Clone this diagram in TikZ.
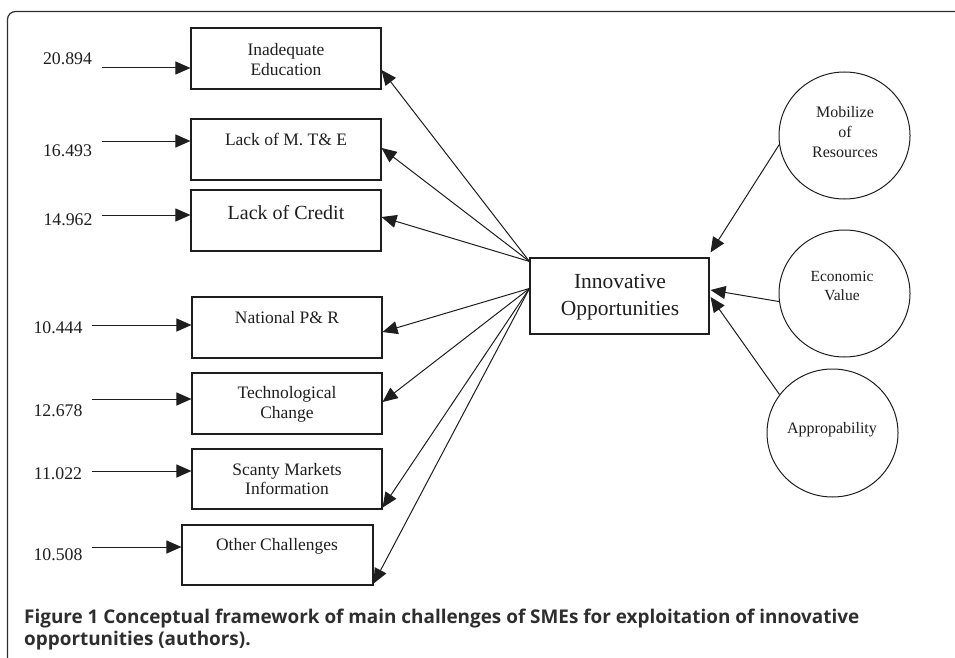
\documentclass[tikz,border=0pt]{standalone}
\usepackage{fontspec}
\setmainfont{Liberation Serif}
\newfontfamily\capfont{Open Sans}
\usetikzlibrary{arrows.meta,shapes.geometric,calc}
\definecolor{ink}{HTML}{1E1E1E}
\definecolor{capgray}{HTML}{2E2E2E}
\begin{document}
\begin{tikzpicture}[x=1pt,y=-1pt,
  box/.style={draw=ink,line width=1.1pt,inner sep=0pt,minimum width=190pt,minimum height=61pt},
  oval/.style={draw=ink,line width=1pt,ellipse,inner sep=0pt,minimum width=131pt,minimum height=127pt},
  lbl/.style={text=ink,inner sep=0pt,align=center,font=\fontsize{17.5}{20}\selectfont},
  circlbl/.style={text=ink,inner sep=0pt,align=center,font=\fontsize{15.5}{19.5}\selectfont},
  num/.style={text=ink,inner sep=0pt,anchor=base,font=\fontsize{17.8}{20}\selectfont},
  arr/.style={draw=ink,line width=1pt,-{Triangle[length=15pt,width=13pt]}},
  frame/.style={draw=capgray,line width=1.2pt,rounded corners=8pt}]
\useasboundingbox (0,0) rectangle (955,658);

% frame
\coordinate (fa) at (7.5,658);
\coordinate (fb) at (955,11.5);
\draw[frame] (fa) |- (fb);

% challenge boxes
\node[box] (b1) at (286,58.5) {};
\node[box] (b2) at (286,149.5) {};
\node[box] (b3) at (286,220.5) {};
\node[box] (b4) at (287,327.5) {};
\node[box] (b5) at (287,403.5) {};
\node[box,minimum height=60pt] (b6) at (287,479) {};
\node[box,minimum width=191pt,minimum height=60pt] (b7) at (277.5,555) {};

\node[lbl] (t1) at (286,59.5) {Inadequate\\Education};
\node[lbl,anchor=base] (t2) at (286,145.3) {Lack of M. T\& E};
\node[lbl,anchor=base,font=\fontsize{20}{22}\selectfont] (t3) at (286,219) {Lack of Credit};
\node[lbl,anchor=base] (t4) at (287,323.3) {National P\& R};
\node[lbl] (t5) at (287,404) {Technological\\Change};
\node[lbl,font=\fontsize{17.5}{19}\selectfont] (t6) at (287,479) {Scanty Markets\\Information};
\node[lbl,anchor=base] (t7) at (277,550.3) {Other Challenges};

% numbers
\node[num] (n1) at (67.5,65) {20.894};
\node[num] (n2) at (67.5,156) {16.493};
\node[num] (n3) at (68,225) {14.962};
\node[num] (n4) at (58,333) {10.444};
\node[num] (n5) at (58,416) {12.678};
\node[num] (n6) at (58,479) {11.022};
\node[num] (n7) at (58,560) {10.508};

\coordinate (s1) at (102,68);
\coordinate (s2) at (102,141);
\coordinate (s3) at (102,215);
\coordinate (s4) at (92,325);
\coordinate (s5) at (92,399);
\coordinate (s6) at (92,471);
\coordinate (s7) at (92,547);

\draw[arr] (s1) -- ($(b1.west)+(0,9.5)$);
\draw[arr] (s2) -- ($(b2.west)+(0,-8.5)$);
\draw[arr] (s3) -- ($(b3.west)+(0,-5.5)$);
\draw[arr] (s4) -- ($(b4.west)+(0,-2.5)$);
\draw[arr] (s5) -- ($(b5.west)+(0,-4.5)$);
\draw[arr] (s6) -- ($(b6.west)+(0,-8)$);
\draw[arr] (s7) -- ($(b7.west)+(0,-8)$);

% central box
\node[box,minimum width=179pt,minimum height=76pt] (inno) at (619.5,296) {};
\node[lbl,font=\fontsize{21.5}{27}\selectfont] (ti) at (620,297) {Innovative\\Opportunities};

\coordinate (o1) at ($(inno.north west)+(0,4)$);
\coordinate (o2) at ($(inno.north west)+(0,31)$);

\draw[arr] (o1) -- ($(b1.east)+(0,11.5)$);
\draw[arr] (o1) -- ($(b2.east)+(0,-1.5)$);
\draw[arr] (o1) -- ($(b3.east)+(0,-3.5)$);
\draw[arr] (o2) -- ($(b4.east)+(0,4.5)$);
\draw[arr] (o2) -- ($(b5.east)+(0,-1.5)$);
\draw[arr] (o2) -- ($(b6.south east)+(0,-2)$);
\draw[arr] (o2) -- ($(b7.south east)+(0,-2)$);

% circles
\node[oval] (mob) at (844.5,135.5) {};
\node[oval] (eco) at (844.5,293.5) {};
\node[oval,minimum height=128pt] (app) at (832.5,433) {};
\node[circlbl,font=\fontsize{16}{20}\selectfont] (tm) at (845,132) {Mobilize\\of\\Resources};
\node[circlbl] (te) at (842,286) {Economic\\Value};
\node[circlbl,anchor=base,font=\fontsize{16}{20}\selectfont] (ta) at (832,433) {Appropability};

\draw[arr] (mob.188) -- ($(inno.north east)+(1,-5)$);
\draw[arr] (eco.187) -- ($(inno.east)+(1,-6)$);
\draw[arr] (app.144) -- ($(inno.east)+(1,1)$);

% caption
\node[anchor=north west,inner sep=0pt,align=left,text=capgray,
      font=\capfont\bfseries\fontsize{18.9}{22}\selectfont] (cap) at (24,609)
  {Figure 1 Conceptual framework of main challenges of SMEs for exploitation of innovative\\opportunities (authors).};
\end{tikzpicture}
\end{document}
